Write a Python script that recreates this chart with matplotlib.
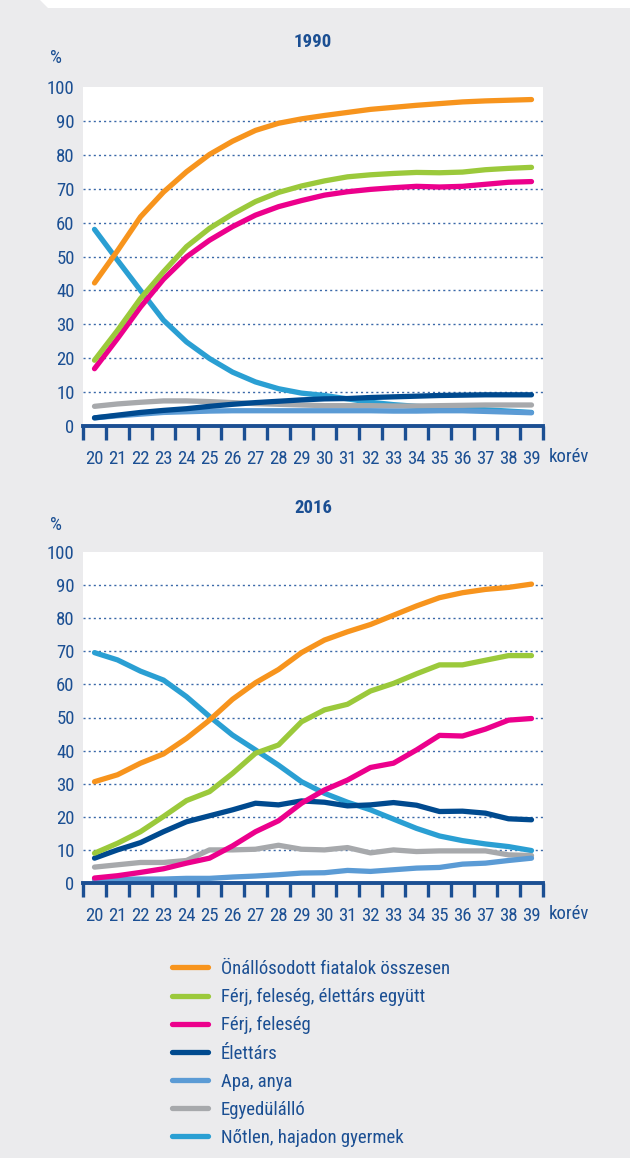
import numpy as np
import matplotlib
matplotlib.use("Agg")
import matplotlib.pyplot as plt
import matplotlib.font_manager as fm
from matplotlib.patches import Polygon

ages = list(range(20, 40))
age_labels = [str(a) for a in ages]

series_names = [
    "Önállósodott fiatalok összesen",
    "Férj, feleség, élettárs együtt",
    "Férj, feleség",
    "Élettárs",
    "Apa, anya",
    "Egyedülálló",
    "Nőtlen, hajadon gyermek",
]
colors = ["#F7941D", "#9BC93B", "#EC008C", "#004A8F", "#5B9BD5", "#A7A9AC", "#2A9FD3"]

# 1990
osszes_1990 = [42.2, 51.7, 61.7, 69.0, 75.0, 80.1, 84.0, 87.2, 89.3, 90.6, 91.6,
               92.5, 93.4, 94.0, 94.6, 95.1, 95.6, 95.9, 96.1, 96.3]
egyutt_1990 = [19.4, 28.2, 37.6, 45.5, 52.9, 58.3, 62.5, 66.2, 68.9, 70.8, 72.3,
               73.5, 74.1, 74.5, 74.8, 74.7, 74.9, 75.6, 76.0, 76.3]
ferj_1990 = [16.9, 25.8, 35.1, 43.3, 49.9, 54.8, 58.8, 62.2, 64.7, 66.5, 68.1,
             69.1, 69.8, 70.3, 70.7, 70.5, 70.7, 71.3, 71.9, 72.1]
elettars_1990 = [2.4, 3.2, 4.0, 4.6, 5.1, 5.8, 6.4, 6.9, 7.3, 7.7, 8.0,
                 8.1, 8.4, 8.6, 8.8, 9.0, 9.1, 9.2, 9.2, 9.2]
apa_1990 = [2.4, 3.0, 3.5, 4.0, 4.2, 4.4, 4.5, 4.5, 4.5, 4.5, 4.5,
            4.5, 4.5, 4.4, 4.4, 4.5, 4.5, 4.3, 4.1, 3.9]
egyedul_1990 = [5.8, 6.5, 7.0, 7.4, 7.4, 7.2, 6.9, 6.6, 6.4, 6.2, 6.0,
                6.0, 6.0, 5.9, 5.9, 6.0, 6.1, 6.2, 6.2, 6.2]
notlen_1990 = [58.0, 48.9, 40.0, 31.2, 24.8, 19.9, 15.9, 13.0, 11.0, 9.7, 9.0,
               8.0, 7.0, 6.3, 5.8, 5.5, 5.2, 4.8, 4.4, 4.0]

# 2016
osszes_2016 = [30.6, 32.7, 36.2, 39.0, 43.7, 49.2, 55.5, 60.5, 64.5, 69.6, 73.4,
               75.9, 78.1, 80.9, 83.7, 86.2, 87.7, 88.7, 89.3, 90.3]
egyutt_2016 = [9.0, 12.0, 15.5, 20.1, 24.9, 27.6, 33.1, 39.2, 41.7, 48.7, 52.3,
               54.0, 58.0, 60.3, 63.2, 65.9, 65.9, 67.3, 68.7, 68.7]
ferj_2016 = [1.5, 2.2, 3.2, 4.3, 6.0, 7.5, 11.2, 15.5, 18.8, 24.1, 28.1,
             31.1, 34.9, 36.2, 40.2, 44.6, 44.4, 46.5, 49.2, 49.7]
elettars_2016 = [7.5, 10.0, 12.2, 15.5, 18.5, 20.3, 22.1, 24.1, 23.6, 24.8, 24.4,
                 23.3, 23.6, 24.3, 23.5, 21.6, 21.7, 21.1, 19.4, 19.1]
apa_2016 = [1.0, 1.1, 1.2, 1.2, 1.4, 1.4, 1.8, 2.1, 2.5, 3.0, 3.1,
            3.8, 3.5, 4.0, 4.5, 4.7, 5.7, 6.0, 6.8, 7.5]
egyedul_2016 = [4.8, 5.5, 6.2, 6.2, 6.8, 10.0, 10.0, 10.2, 11.4, 10.2, 10.0,
                10.7, 9.1, 10.0, 9.5, 9.7, 9.7, 9.7, 8.5, 8.3]
notlen_2016 = [69.6, 67.4, 64.0, 61.3, 56.3, 50.3, 44.7, 40.2, 35.6, 30.6, 27.1,
               24.4, 22.1, 19.3, 16.5, 14.2, 12.8, 11.8, 11.0, 9.8]

data_1990 = [osszes_1990, egyutt_1990, ferj_1990, elettars_1990, apa_1990, egyedul_1990, notlen_1990]
data_2016 = [osszes_2016, egyutt_2016, ferj_2016, elettars_2016, apa_2016, egyedul_2016, notlen_2016]

text_col = "#1B4F93"
bg = "#EBEBED"

# look for a narrow face (the original uses a condensed sans)
installed = fm.fontManager.ttflist
names = {f.name for f in installed}
family, stretch, fsize = "Roboto", "normal", 12
for cand in ["Liberation Sans Narrow", "Roboto Condensed", "Open Sans Condensed",
             "Noto Sans Condensed", "DejaVu Sans Condensed", "Arial Narrow"]:
    if cand in names:
        family, fsize = cand, 13.5
        break
else:
    for f in installed:
        if f.stretch in ("condensed", "semi-condensed", 600, 700, 500) or \
                "ondensed" in f.fname or "Narrow" in f.fname:
            family, stretch, fsize = f.name, "condensed", 13.5
            break
plt.rcParams["font.family"] = [family, "DejaVu Sans"]
plt.rcParams["font.stretch"] = stretch

W, H = 630, 1158
fig = plt.figure(figsize=(W / 100, H / 100), dpi=100, facecolor=bg)

# white strip at the top (cut-off page heading)
fig.patches.append(Polygon([(40 / W, 1), (1, 1), (1, 1 - 8 / H), (48 / W, 1 - 8 / H)],
                           closed=True, transform=fig.transFigure, facecolor="white",
                           edgecolor="none"))


def draw_panel(rect, data, year, title_y, pct_y):
    ax = fig.add_axes(rect)
    ax.set_facecolor("white")
    x = np.arange(len(ages))
    for i in [6, 5, 4, 3, 2, 1, 0]:
        ax.plot(x, data[i], color=colors[i], lw=3.8, solid_capstyle="round",
                solid_joinstyle="round", label=series_names[i], zorder=3)
    ax.set_xlim(-0.5, len(ages) - 0.5)
    ax.set_ylim(0, 100)
    ax.set_yticks(range(0, 101, 10))
    for v in range(10, 100, 10):
        ax.axhline(v, color="#3A68A8", lw=1.0, ls=(0, (1.5, 2.2)), zorder=1)
    for s in ["top", "left", "right"]:
        ax.spines[s].set_visible(False)
    ax.spines["bottom"].set_color(text_col)
    ax.spines["bottom"].set_linewidth(2.8)
    ax.spines["bottom"].set_zorder(5)
    ax.set_xticks(x)
    ax.set_xticklabels(age_labels)
    ax.set_xticks(np.arange(-0.5, len(ages)), minor=True)
    ax.tick_params(axis="x", which="major", length=0, pad=17.5, labelsize=fsize, labelcolor=text_col)
    ax.tick_params(axis="x", which="minor", length=10, width=2.4, color=text_col, direction="out")
    ax.tick_params(axis="y", length=0, pad=6, labelsize=fsize, labelcolor=text_col)
    pos = ax.get_position()
    fig.text(pos.x1 + 6 / W, pos.y0 - 31 / H, "korév", fontsize=fsize, color=text_col,
             ha="left", va="center")
    fig.text(313 / W, title_y, year, fontsize=fsize, color=text_col, fontweight="bold",
             ha="center", va="center")
    fig.text(56 / W, pct_y, "%", fontsize=fsize, color=text_col, ha="center", va="center")
    return ax


ax1 = draw_panel([83 / W, 1 - 426 / H, 460 / W, 339 / H], data_1990, "1990",
                 1 - 42 / H, 1 - 58 / H)
ax2 = draw_panel([83 / W, 1 - 883 / H, 460 / W, 331 / H], data_2016, "2016",
                 1 - 508 / H, 1 - 525 / H)

handles, labels = ax2.get_legend_handles_labels()
lookup = dict(zip(labels, handles))
leg = fig.legend([lookup[n] for n in series_names], series_names,
                 loc="upper left", bbox_to_anchor=(172 / W, 1 - 960 / H),
                 frameon=False, fontsize=fsize, handlelength=1.9, handletextpad=0.7,
                 labelspacing=0.54, borderaxespad=0, borderpad=0)
for t in leg.get_texts():
    t.set_color(text_col)

fig.savefig("out.png", dpi=100, facecolor=bg)
